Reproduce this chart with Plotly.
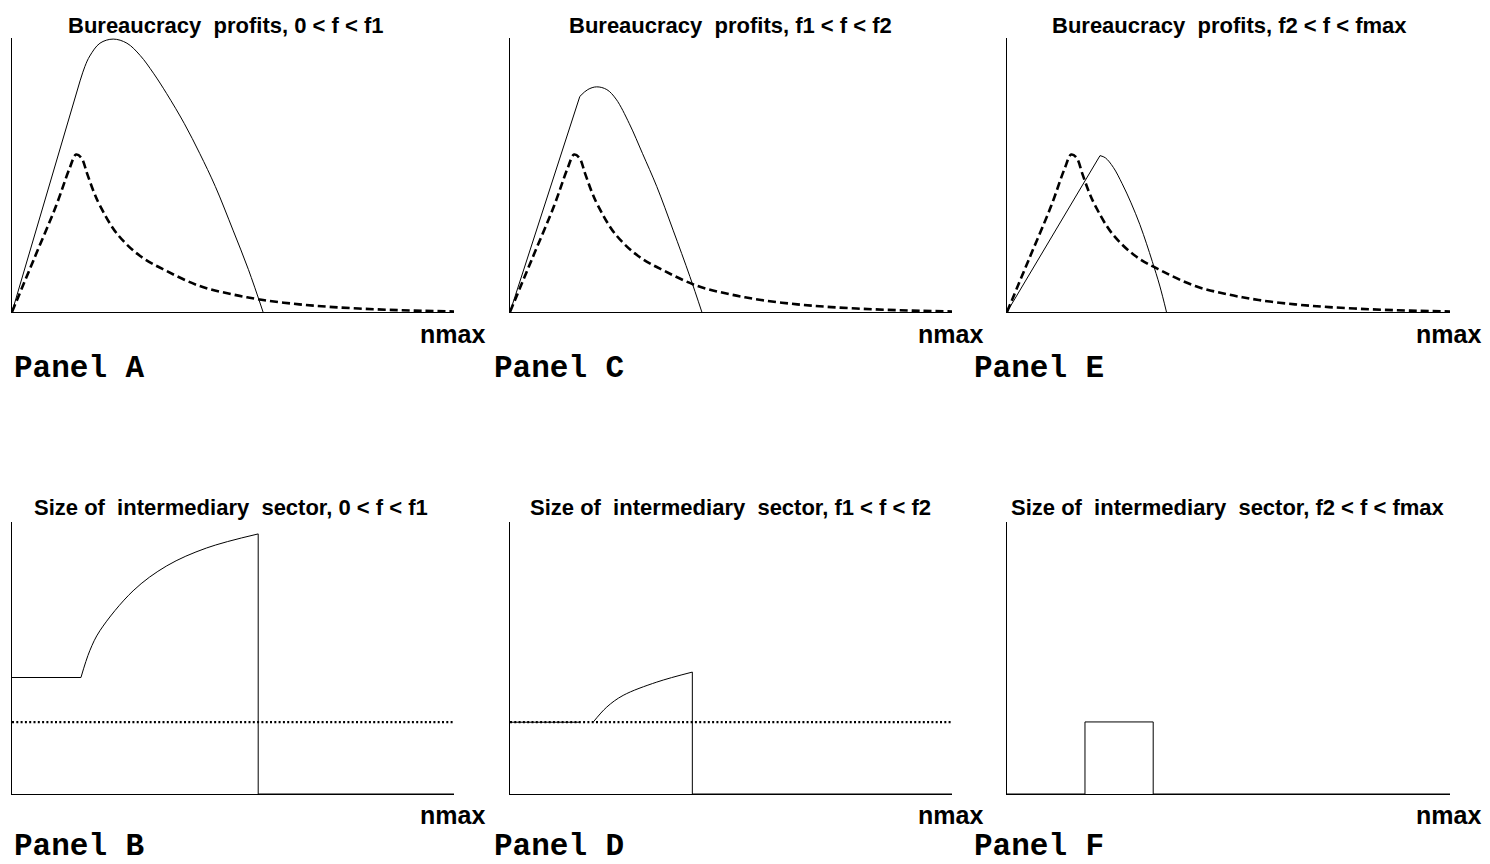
import plotly.graph_objects as go

W, H = 1490, 864

# ---------------- data (x in units of nmax, y normalised) ----------------
# Benchmark bureaucracy profits (dashed), shared by panels A, C, E
bench_x = [0, 0.05, 0.10, 0.13, 0.145, 0.157, 0.17, 0.185, 0.199, 0.237, 0.29, 0.35,
           0.425, 0.50, 0.568, 0.65, 0.727, 0.82, 0.91, 1.0]
bench_y = [0, 0.195, 0.39, 0.525, 0.577, 0.565, 0.507, 0.44, 0.39, 0.288, 0.205, 0.15,
           0.095, 0.064, 0.044, 0.028, 0.018, 0.010, 0.005, 0.002]

# Panel A: bureaucracy profits, 0 < f < f1
a_x = [0, 0.154, 0.165, 0.176, 0.199, 0.229, 0.26, 0.29, 0.32, 0.35, 0.39, 0.425, 0.46,
       0.5, 0.535, 0.568]
a_y = [0, 0.847, 0.90, 0.938, 0.985, 1.0, 0.985, 0.94, 0.875, 0.80, 0.69, 0.58, 0.46,
       0.30, 0.155, 0]

# Panel C: bureaucracy profits, f1 < f < f2
c_x = [0, 0.158, 0.176, 0.196, 0.219, 0.24, 0.27, 0.30, 0.332, 0.369, 0.407, 0.434]
c_y = [0, 0.79, 0.815, 0.825, 0.815, 0.78, 0.69, 0.58, 0.46, 0.30, 0.13, 0]

# Panel E: bureaucracy profits, f2 < f < fmax
e_x = [0, 0.12, 0.21, 0.222, 0.24, 0.26, 0.28, 0.30, 0.315, 0.328, 0.345, 0.36]
e_y = [0, 0.327, 0.573, 0.565, 0.53, 0.47, 0.40, 0.32, 0.25, 0.185, 0.095, 0]

# Panel B: size of intermediary sector, 0 < f < f1
b_x = [0, 0.156, 0.176, 0.199, 0.274, 0.35, 0.44, 0.557, 0.557, 1.0]
b_y = [0.43, 0.43, 0.529, 0.603, 0.75, 0.842, 0.908, 0.96, 0, 0]

# Panel D: size of intermediary sector, f1 < f < f2
d_x = [0, 0.158, None, 0.188, 0.219, 0.256, 0.332, 0.4125, 0.4125, 1.0]
d_y = [0.265, 0.265, None, 0.265, 0.321, 0.364, 0.413, 0.45, 0, 0]

# Panel F: size of intermediary sector, f2 < f < fmax
f_x = [0, 0.176, 0.176, 0.33, 0.33, 1.0]
f_y = [0, 0, 0.266, 0.266, 0, 0]

# Benchmark sector size (dotted) in panels B and D
ref_x = [0, 1.0]
ref_y = [0.265, 0.265]

titles = {
    "A": "Bureaucracy  profits, 0 < f < f1",
    "C": "Bureaucracy  profits, f1 < f < f2",
    "E": "Bureaucracy  profits, f2 < f < fmax",
    "B": "Size of  intermediary  sector, 0 < f < f1",
    "D": "Size of  intermediary  sector, f1 < f < f2",
    "F": "Size of  intermediary  sector, f2 < f < fmax",
}
x_label = "nmax"

# ---------------- layout geometry (pixels) ----------------
col_left = [12, 510, 1007]
col_right = [454, 952, 1450]
row_top = [38, 522]
row_bot = [312, 794]

fig = go.Figure()

panels = [
    ("A", 0, 0), ("C", 0, 1), ("E", 0, 2),
    ("B", 1, 0), ("D", 1, 1), ("F", 1, 2),
]

solid = dict(color="black", width=1)
dashed = dict(color="black", width=2.6, dash="8px,4px")
dotted = dict(color="black", width=2.2, dash="2px,2.3px")


def add(idx, x, y, line, shape="linear"):
    xa = "x" if idx == 1 else f"x{idx}"
    ya = "y" if idx == 1 else f"y{idx}"
    fig.add_trace(go.Scatter(x=x, y=y, mode="lines", line=dict(**line, shape=shape),
                             xaxis=xa, yaxis=ya, showlegend=False, hoverinfo="skip",
                             connectgaps=False))


for i, (name, r, c) in enumerate(panels, start=1):
    sfx = "" if i == 1 else str(i)
    fig.layout[f"xaxis{sfx}"] = dict(
        domain=[col_left[c] / W, col_right[c] / W], range=[0, 1],
        anchor="y" if i == 1 else f"y{i}",
        showline=True, linecolor="black", linewidth=1, showgrid=False, zeroline=False,
        tickvals=[1], ticks="inside", ticklen=4, tickcolor="black", tickwidth=1,
        showticklabels=False, fixedrange=True)
    fig.layout[f"yaxis{sfx}"] = dict(
        domain=[1 - row_bot[r] / H, 1 - row_top[r] / H], range=[0, 1.004],
        anchor="x" if i == 1 else f"x{i}",
        showline=True, linecolor="black", linewidth=1, showgrid=False, zeroline=False,
        ticks="", showticklabels=False, fixedrange=True)

# Panel A
add(1, a_x[:2], a_y[:2], solid)
add(1, a_x[1:], a_y[1:], solid, "spline")
add(1, bench_x, bench_y, dashed, "spline")
# Panel C
add(2, c_x[:2], c_y[:2], solid)
add(2, c_x[1:], c_y[1:], solid, "spline")
add(2, bench_x, bench_y, dashed, "spline")
# Panel E
add(3, e_x[:3], e_y[:3], solid)
add(3, e_x[2:], e_y[2:], solid, "spline")
add(3, bench_x, bench_y, dashed, "spline")
# Panel B
add(4, ref_x, ref_y, dotted)
add(4, b_x[:2], b_y[:2], solid)
add(4, b_x[1:8], b_y[1:8], solid, "spline")
add(4, b_x[7:], b_y[7:], solid)
# Panel D
add(5, ref_x, ref_y, dotted)
add(5, d_x[:2], d_y[:2], solid)
add(5, d_x[3:8], d_y[3:8], solid, "spline")
add(5, d_x[7:], d_y[7:], solid)
# Panel F
add(6, f_x, f_y, solid)

# ---------------- text ----------------
title_cx = {"A": 225, "C": 730, "E": 1229, "B": 231, "D": 730, "F": 1228}
title_cy = [25, 508]
nmax_right = [487, 985, 1483]
nmax_cy = [334, 815]
label_left = [12, 492, 972]
label_cy = [368, 846]

ann = []
for name, r, c in panels:
    ann.append(dict(text=titles[name], x=title_cx[name] / W, y=1 - title_cy[r] / H,
                    xref="paper", yref="paper", xanchor="center", yanchor="middle",
                    showarrow=False,
                    font=dict(family="Arial, Liberation Sans, sans-serif", size=22,
                              color="black", weight="bold")))
    ann.append(dict(text=x_label, x=nmax_right[c] / W, y=1 - nmax_cy[r] / H,
                    xref="paper", yref="paper", xanchor="right", yanchor="middle",
                    showarrow=False,
                    font=dict(family="Arial, Liberation Sans, sans-serif", size=25,
                              color="black", weight="bold")))
    ann.append(dict(text=f"Panel {name}", x=label_left[c] / W, y=1 - label_cy[r] / H,
                    xref="paper", yref="paper", xanchor="left", yanchor="middle",
                    showarrow=False,
                    font=dict(family="Courier New, Liberation Mono, monospace", size=31,
                              color="black", weight="bold")))

fig.update_layout(width=W, height=H, autosize=False,
                  margin=dict(l=0, r=0, t=0, b=0, pad=0),
                  paper_bgcolor="white", plot_bgcolor="white",
                  annotations=ann, showlegend=False)

fig.write_html(
    "out.html",
    config={"displayModeBar": False},
    post_script="document.body.style.margin='0';document.body.style.overflow='hidden';"
                "document.documentElement.style.overflow='hidden';",
)
